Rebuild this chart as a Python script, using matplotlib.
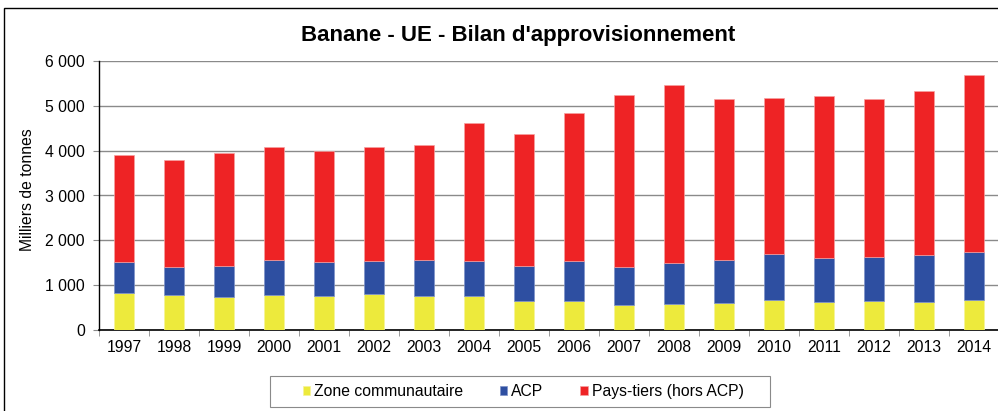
import matplotlib
matplotlib.use("Agg")
import matplotlib.pyplot as plt
from matplotlib.patches import Rectangle
from matplotlib.ticker import FuncFormatter, FixedLocator

plt.rcParams["font.family"] = ["Liberation Sans", "DejaVu Sans"]

years = [str(y) for y in range(1997, 2015)]
zone_comm = [824, 787, 735, 787, 765, 794, 765, 765, 653, 646, 557, 579, 609, 668, 616, 653, 616, 661]
acp_top = [1507, 1403, 1418, 1552, 1514, 1537, 1559, 1537, 1418, 1537, 1403, 1492, 1566, 1693, 1596, 1633, 1670, 1737]
total = [3898, 3794, 3942, 4083, 3987, 4083, 4135, 4618, 4365, 4840, 5249, 5457, 5152, 5174, 5219, 5145, 5338, 5694]

acp = [a - z for a, z in zip(acp_top, zone_comm)]
pays_tiers = [t - a for t, a in zip(total, acp_top)]

c_yellow = "#EDEA3C"
c_blue = "#2E4FA1"
c_red = "#EE2325"
fs = 11.3

fig = plt.figure(figsize=(9.98, 4.11), dpi=100)
ax = fig.add_axes([99 / 998, 1 - 330 / 411, 900 / 998, 269 / 411])

x = range(len(years))
w = 0.4
ax.bar(x, zone_comm, w, color=c_yellow, edgecolor="#f6f39a", linewidth=0.5, label="Zone communautaire", zorder=3)
ax.bar(x, acp, w, bottom=zone_comm, color=c_blue, edgecolor="#7f93c9", linewidth=0.5, label="ACP", zorder=3)
ax.bar(x, pays_tiers, w, bottom=acp_top, color=c_red, edgecolor="#f6a0a0", linewidth=0.5, label="Pays-tiers (hors ACP)", zorder=3)

ax.set_xlim(-0.5, len(years) - 0.5)
ax.set_ylim(0, 6000)
ax.set_yticks(range(0, 6001, 1000))
ax.yaxis.set_major_formatter(FuncFormatter(lambda v, p: f"{int(v):,}".replace(",", " ")))
ax.grid(axis="y", color="#8a8a8a", linewidth=1, zorder=0)
ax.tick_params(axis="y", length=4, color="#8a8a8a", labelsize=fs, pad=6)

ax.set_xticks(list(x))
ax.set_xticklabels(years, fontsize=fs)
ax.tick_params(axis="x", length=0, pad=7)
ax.xaxis.set_minor_locator(FixedLocator([i - 0.5 for i in range(len(years) + 1)]))
ax.tick_params(axis="x", which="minor", length=4, color="#8a8a8a")

for s in ["top", "right"]:
    ax.spines[s].set_visible(False)
ax.spines["left"].set_color("black")
ax.spines["bottom"].set_color("black")
ax.spines["left"].set_linewidth(1)
ax.spines["bottom"].set_linewidth(1.2)

ax.set_ylabel("Milliers de tonnes", fontsize=fs)
ax.yaxis.set_label_coords(-64 / 900, 0.52)

fig.text(518 / 998, 1 - 35 / 411, "Banane - UE - Bilan d'approvisionnement",
         ha="center", va="center", fontsize=16, fontweight="bold")

leg = fig.legend(loc="center", bbox_to_anchor=(523 / 998, 1 - 391.5 / 411), ncol=3,
                 fontsize=fs, frameon=False,
                 handlelength=0.5, handleheight=0.5, handletextpad=0.25, columnspacing=2.3)

# legend box
fig.patches.append(Rectangle((270 / 998, 1 - 407 / 411), 500 / 998, 31 / 411, transform=fig.transFigure,
                             fill=False, edgecolor="#8a8a8a", linewidth=0.8))

# outer chart border
fig.patches.append(Rectangle((4 / 998, -0.01), 1.0, 1 - 8 / 411 + 0.01, transform=fig.transFigure,
                             fill=False, edgecolor="black", linewidth=1))

fig.savefig("out.png", dpi=100)
